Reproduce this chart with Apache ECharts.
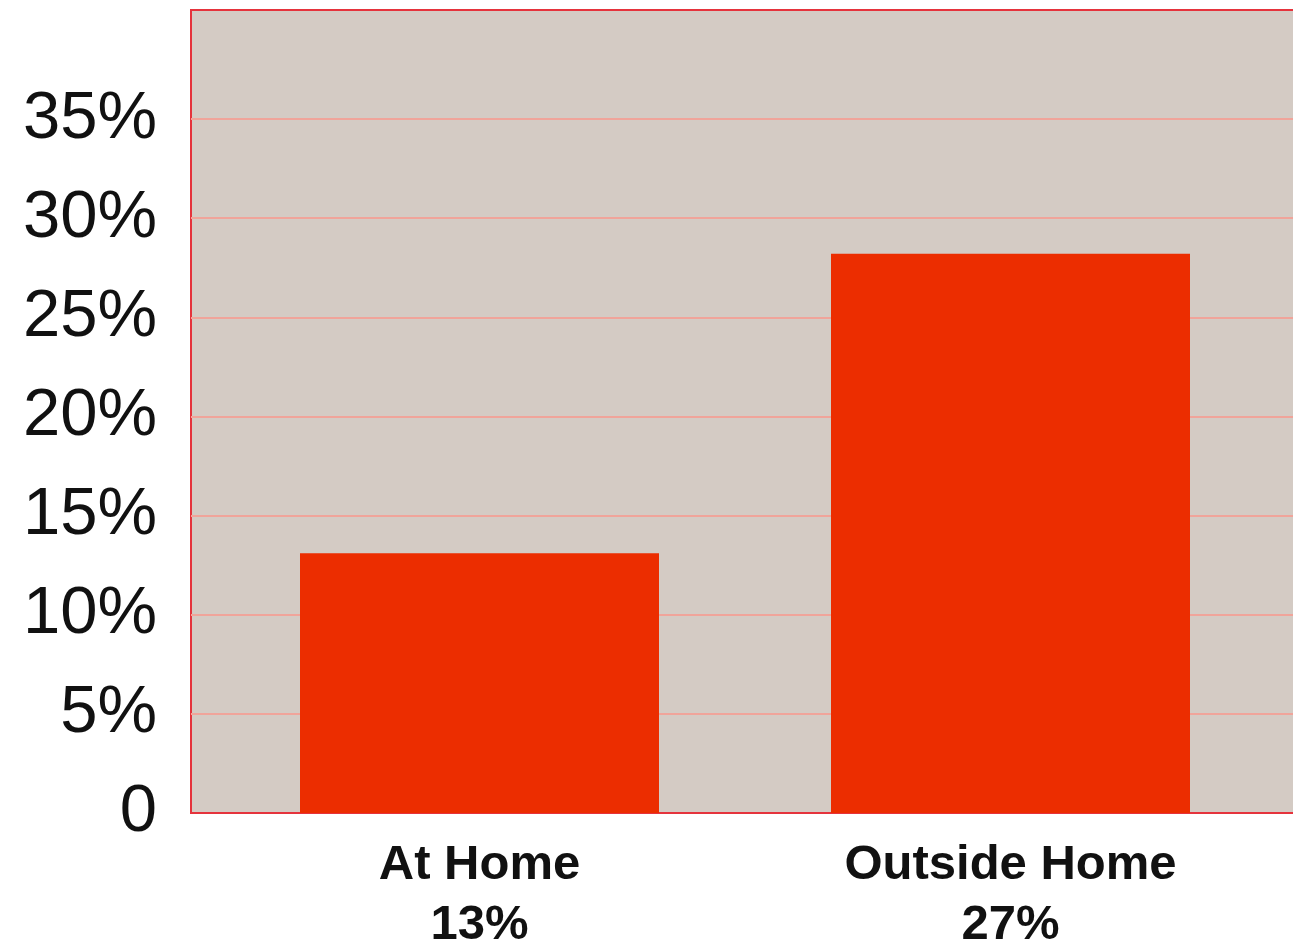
<!DOCTYPE html>
<html>
<head>
<meta charset="utf-8">
<script src="https://cdn.jsdelivr.net/npm/echarts@6/dist/echarts.min.js"></script>
<style>
html,body{margin:0;padding:0;background:#fff;}
#chart{width:1293px;height:948px;}
</style>
</head>
<body>
<div id="chart"></div>
<script>
const categories = ['At Home', 'Outside Home'];
const categoryPercents = ['13%', '27%'];
const values = [13.1, 28.2];
const yTicks = [0, 5, 10, 15, 20, 25, 30, 35];

const chart = echarts.init(document.getElementById('chart'), null, {renderer: 'canvas'});
const pink = '#f0a49a';
const clear = 'rgba(0,0,0,0)';
const splitColors = yTicks.map(v => v === 0 ? clear : pink).concat([clear]);
const labels = categories.map((c, i) => c + '\n' + categoryPercents[i]);

chart.setOption({
  animation: false,
  backgroundColor: '#ffffff',
  grid: [
    {left: 191, top: 10, right: -8, bottom: 135, show: true, outerBoundsMode: 'none', containLabel: false,
     backgroundColor: '#d4cbc4', borderColor: '#e5333c', borderWidth: 2},
    {left: 214, top: 10, right: 17, bottom: 135, outerBoundsMode: 'none', containLabel: false}
  ],
  xAxis: [
    {gridIndex: 0, type: 'value', show: false, min: 0, max: 1},
    {gridIndex: 1, type: 'category', data: labels,
     axisLine: {show: false}, axisTick: {show: false},
     axisLabel: {margin: 22, color: '#111', fontFamily: 'Liberation Sans, Arial, sans-serif',
       fontWeight: 'bold', fontSize: 49, lineHeight: 60, interval: 0}}
  ],
  yAxis: [
    {gridIndex: 0, type: 'value', min: 0, max: 40.5, interval: 5,
     axisLine: {show: false}, axisTick: {show: false},
     axisLabel: {margin: 34, color: '#111', fontFamily: 'Liberation Sans, Arial, sans-serif',
       fontSize: 67,
       formatter: v => v === 0 ? '0' : (yTicks.indexOf(v) >= 0 ? v + '%' : '')},
     splitLine: {show: true, lineStyle: {color: splitColors, width: 2}}},
    {gridIndex: 1, type: 'value', min: 0, max: 40.5, interval: 5, show: false,
     splitLine: {show: false}}
  ],
  series: [
    {type: 'bar', xAxisIndex: 1, yAxisIndex: 1, data: values, barWidth: 359,
     itemStyle: {color: '#ec2d00'}}
  ]
});
</script>
</body>
</html>
